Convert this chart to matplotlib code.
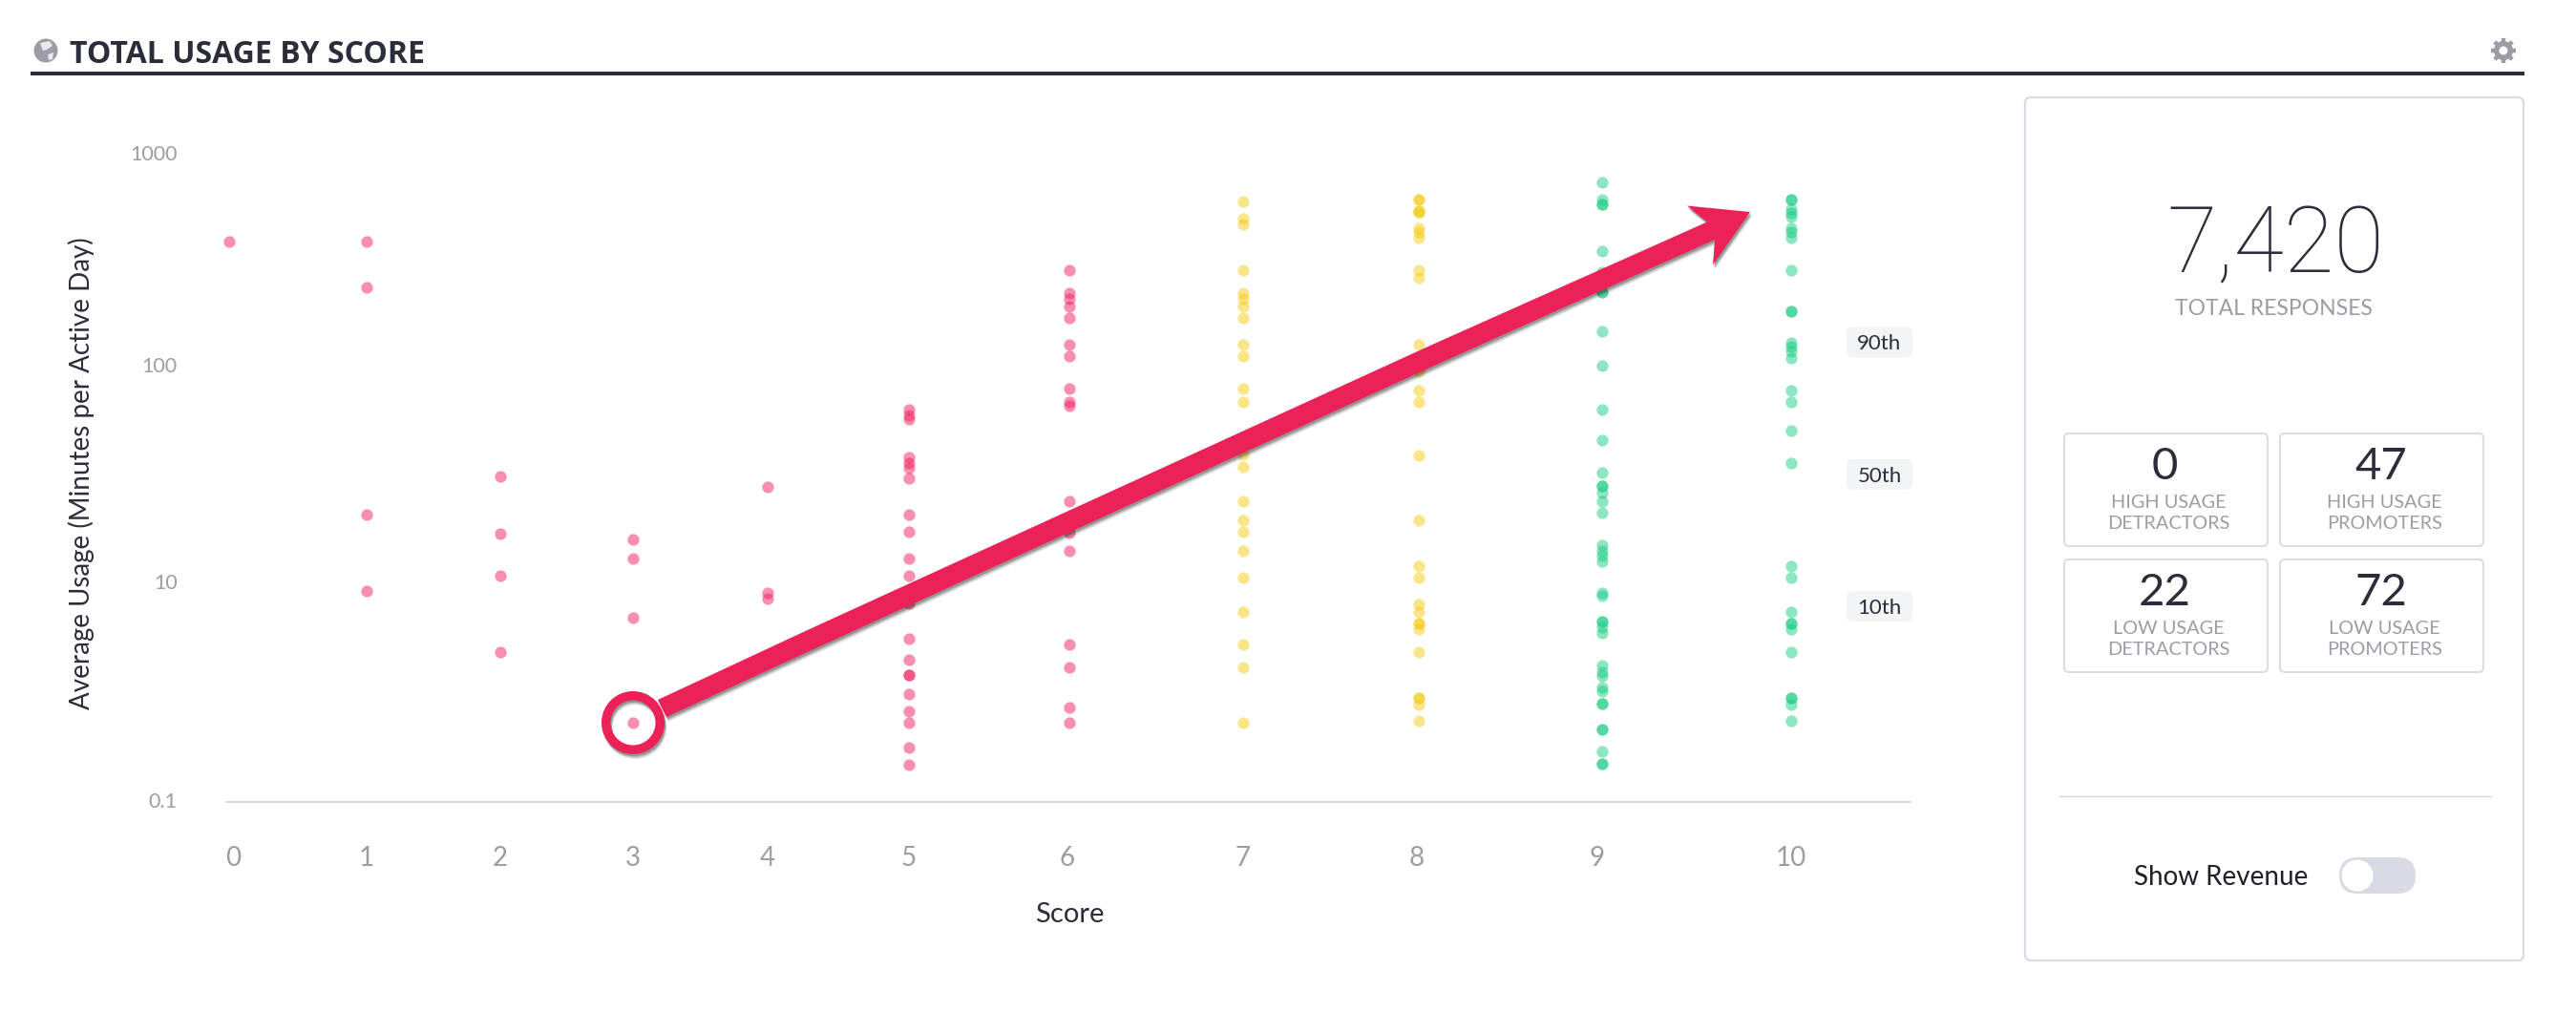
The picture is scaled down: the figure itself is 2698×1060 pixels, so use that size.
import numpy as np
import matplotlib
matplotlib.use("Agg")
import matplotlib.pyplot as plt
from matplotlib.patches import FancyBboxPatch, Polygon, Circle, Wedge, Rectangle
from matplotlib.transforms import ScaledTranslation
import matplotlib.patheffects as pe

plt.rcParams['font.family'] = ['Lato', 'DejaVu Sans']

# ---------- data ----------
scores = [0, 1, 2, 3, 4, 5, 6, 7, 8, 9, 10]
usage_0 = [389]
usage_1 = [389, 239, 21.3, 9.44]
usage_2 = [31.9, 17.4, 11.1, 4.93]
usage_3 = [16.3, 13.3, 7.1, 2.32]
usage_4 = [28.6, 9.25, 8.7]
usage_5 = [65.2, 61.1, 58.5, 39.3, 37.0, 35.1, 31.3, 21.3, 17.8, 13.3, 11.1, 8.3,
           5.70, 4.54, 3.86, 3.86, 3.15, 2.63, 2.32, 1.79, 1.49]
usage_6 = [287, 225, 211, 195, 173, 130, 115, 81.3, 70.9, 67.5, 24.6, 17.6, 14.5,
           5.35, 4.20, 2.74, 2.32]
usage_7 = [598, 495, 465, 287, 225, 211, 195, 173, 130, 115, 81.3, 70.9, 40.2, 35.4,
           24.6, 20.0, 17.8, 14.5, 10.9, 7.54, 5.35, 4.20, 2.32]
usage_8 = [607, 607, 540, 540, 526, 449, 432, 405, 287, 265, 130, 97.7, 79.8, 70.9,
           40.0, 20.0, 12.3, 10.9, 8.20, 7.54, 6.67, 6.67, 6.29, 4.94, 3.03, 3.03,
           2.83, 2.38]
usage_9 = [731, 610, 575, 575, 353, 281, 228, 228, 150, 104, 65.2, 47.1, 33.4, 28.9,
           28.9, 27.0, 24.5, 21.7, 15.4, 14.5, 13.8, 13.0, 9.28, 8.96, 6.83, 6.83,
           6.41, 6.04, 4.28, 3.98, 3.84, 3.40, 3.26, 2.85, 2.85, 2.17, 2.17, 1.71,
           1.50, 1.50]
usage_10 = [610, 610, 547, 526, 504, 449, 432, 405, 287, 185, 185, 133, 127, 121, 113,
            79.8, 70.6, 52.0, 36.8, 12.3, 10.9, 7.54, 6.67, 6.67, 6.29, 4.94, 3.03,
            3.03, 2.83, 2.38]
all_usage = [usage_0, usage_1, usage_2, usage_3, usage_4, usage_5, usage_6, usage_7,
             usage_8, usage_9, usage_10]

y_ticks = [1, 10, 100, 1000]
y_tick_labels = ['0.1', '10', '100', '1000']
percentile_labels = ['90th', '50th', '10th']
total_responses = '7,420'
total_label = 'TOTAL RESPONSES'
segment_values = ['0', '47', '22', '72']
segment_labels = ['HIGH USAGE\nDETRACTORS', 'HIGH USAGE\nPROMOTERS',
                  'LOW USAGE\nDETRACTORS', 'LOW USAGE\nPROMOTERS']

# ---------- style ----------
W, H = 2698, 1060
PINK, YELLOW, GREEN = '#F2215F', '#F4CC17', '#1CCC85'
DARK, GREY, LINE = '#2B2D3A', '#9B9CA6', '#D8DBE5'
score_colors = [PINK] * 7 + [YELLOW] * 2 + [GREEN] * 2
score_stops = [-1, 0, 1, 2, 3, 4, 5, 6, 7, 8, 9, 10, 11]
axis_stops = [96, 240, 384, 523.5, 663, 804, 952, 1120, 1302, 1486, 1678, 1876, 2074]


def fwd(v):
    return np.interp(v, score_stops, axis_stops)


def inv(v):
    return np.interp(v, axis_stops, score_stops)


fig = plt.figure(figsize=(W / 100, H / 100), dpi=100, facecolor='white')

# ---------- chart ----------
L, R, T, B = 237, 2001, 160, 840
ax = fig.add_axes([L / W, 1 - B / H, (R - L) / W, (B - T) / H])
ax.set_xscale('function', functions=(fwd, inv))
ax.set_yscale('log')
ax.set_xlim(inv(L), inv(R))
ax.set_ylim(1, 1000)
for s, vals, c in zip(scores, all_usage, score_colors):
    ax.scatter([s] * len(vals), vals, s=78, color=c, alpha=0.5, linewidths=0,
               clip_on=False, zorder=3)
for side in ['top', 'right', 'left']:
    ax.spines[side].set_visible(False)
ax.spines['bottom'].set_color(LINE)
ax.spines['bottom'].set_linewidth(1.5)
ax.set_xticks(scores)
ax.set_xticklabels([str(s) for s in scores], fontsize=20, color=GREY)
ax.xaxis.set_minor_locator(matplotlib.ticker.NullLocator())
ax.yaxis.set_minor_locator(matplotlib.ticker.NullLocator())
ax.set_yticks(y_ticks)
ax.set_yticklabels(y_tick_labels, fontsize=15.5, color=GREY)
ax.tick_params(axis='x', length=0, pad=33)
ax.tick_params(axis='y', length=0, pad=37)
for tick, dy in zip(ax.yaxis.get_major_ticks(), [2, 4, 5, 0]):
    tick.label1.set_transform(tick.label1.get_transform()
                              + ScaledTranslation(0, dy / 100, fig.dpi_scale_trans))
# tick labels 0 and 9 sit a little off their columns in the reference
for tick, dx in zip(ax.xaxis.get_major_ticks(), [4, 0, 0, 0, 0, 0, -2, 0, -2, -5, 0]):
    tick.label1.set_transform(tick.label1.get_transform()
                              + ScaledTranslation(dx / 100, 0, fig.dpi_scale_trans))

# ---------- overlay in page pixels ----------
ov = fig.add_axes([0, 0, 1, 1], facecolor='none')
ov.set_xlim(0, W)
ov.set_ylim(H, 0)
ov.axis('off')


def rbox(x0, y0, x1, y1, r, fc='white', ec=LINE, lw=2.0, z=2):
    p = FancyBboxPatch((x0 + r, y0 + r), x1 - x0 - 2 * r, y1 - y0 - 2 * r,
                       boxstyle=f'round,pad={r},rounding_size={r}', fc=fc, ec=ec,
                       lw=lw, zorder=z)
    ov.add_patch(p)
    return p


# axis titles
ov.text(85, 496, 'Average Usage (Minutes per Active Day)', rotation=90, ha='center',
        va='center', fontsize=20, color=DARK)
ov.text(1120, 958, 'Score', ha='center', va='center', fontsize=21, color=DARK)

# header
ov.text(73, 57, 'TOTAL USAGE BY SCORE', ha='left', va='center', fontsize=23,
        fontweight='bold', color=DARK, family=['Open Sans', 'DejaVu Sans'])
ov.add_patch(Rectangle((32, 75), 2612, 4, fc=DARK, ec='none'))
ov.add_patch(Circle((48, 53), 12.5, fc=GREY, ec='none'))
ov.add_patch(Polygon([[42, 45], [52, 43], [55, 48], [49, 52], [45, 53]], fc='#E8E9ED', ec='none'))
ov.add_patch(Polygon([[50, 57], [56, 55], [55, 62], [51, 63]], fc='#E8E9ED', ec='none'))
# gear
ov.add_patch(Wedge((2622, 53), 10, 0, 360, width=5.5, fc=GREY, ec='none'))
for a in np.deg2rad(np.arange(0, 360, 45)):
    ov.plot([2622 + 8 * np.cos(a), 2622 + 13 * np.cos(a)],
            [53 + 8 * np.sin(a), 53 + 13 * np.sin(a)], color=GREY, lw=3.2,
            solid_capstyle='butt')

# percentile chips
for lab, yc in zip(percentile_labels, [358.5, 497, 635]):
    rbox(1934, yc - 16, 2003, yc + 16, 6, fc='#F3F4F6', ec='none', lw=0)
    ov.text(1968.5, yc + 2, lab, ha='center', va='center', fontsize=16, color=DARK, zorder=3)

# side panel
rbox(2121, 102, 2643, 1006, 6, lw=1.6, z=1)
ov.text(2383, 259, total_responses, ha='center', va='center', fontsize=69, color=DARK,
        family=['Roboto', 'DejaVu Sans'], fontweight='light')
ov.text(2381, 323, total_label, ha='center', va='center', fontsize=16.5, color=GREY)
cells = [(2162, 2375, 454, 572), (2388, 2601, 454, 572),
         (2162, 2375, 586, 704), (2388, 2601, 586, 704)]
for (x0, x1, y0, y1), val, lab in zip(cells, segment_values, segment_labels):
    rbox(x0, y0, x1, y1, 5, lw=1.4)
    ov.text((x0 + x1) / 2 - 1, y0 + 35, val, ha='center', va='center', fontsize=34,
            color=DARK, zorder=3)
    ov.text((x0 + x1) / 2 + 3, y0 + 73, lab.split('\n')[0], ha='center', va='center',
            fontsize=14.3, color=GREY, zorder=3)
    ov.text((x0 + x1) / 2 + 3, y0 + 94, lab.split('\n')[1], ha='center', va='center',
            fontsize=14.3, color=GREY, zorder=3)
ov.plot([2157, 2609], [834, 834], color='#CFD2DB', lw=1.0)
ov.text(2235, 919, 'Show Revenue', ha='left', va='center', fontsize=20, color='#1E1F28')
rbox(2450, 898, 2530, 936, 19, fc=LINE, ec='none', lw=0)
ov.add_patch(Circle((2469, 917), 16.5, fc='white', ec='none', zorder=3))

# arrow callout
shadow = [pe.SimplePatchShadow(offset=(0.8, -1.6), shadow_rgbFace='black', alpha=0.22),
          pe.SimplePatchShadow(offset=(1.2, -2.6), shadow_rgbFace='black', alpha=0.16),
          pe.SimplePatchShadow(offset=(1.6, -3.6), shadow_rgbFace='black', alpha=0.10),
          pe.Normal()]
arrow = Polygon([[689, 733], [850, 658], [1500, 361], [1788, 232.5], [1767, 215.5],
                 [1833, 222], [1794, 277.5], [1796, 251], [1500, 384], [850, 681],
                 [698, 751]], fc='#EC2158', ec='none', zorder=5, path_effects=shadow)
ov.add_patch(arrow)
ov.add_patch(Wedge((663, 757), 33, 0, 360, width=9.5, fc='#EC2158', ec='none', zorder=6,
                   path_effects=shadow))

fig.savefig('out.png', dpi=100, facecolor='white')
